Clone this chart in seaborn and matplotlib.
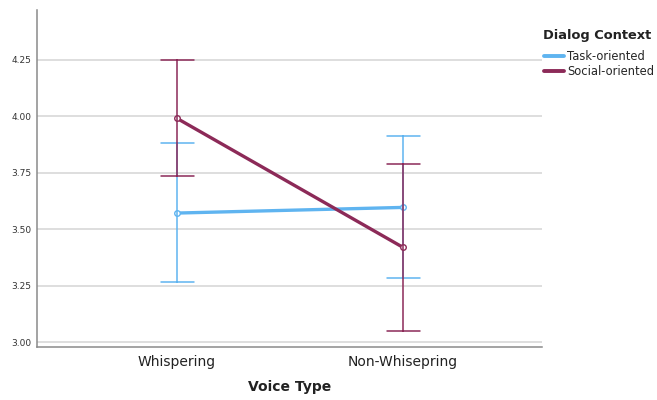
import numpy as np
import pandas as pd
import matplotlib
matplotlib.use("Agg")
import matplotlib.pyplot as plt
from matplotlib.lines import Line2D
import seaborn as sns

# values (mean with lower / upper CI bound)
voice_types = ["Whispering", "Non-Whisepring"]
contexts = ["Task-oriented", "Social-oriented"]
task_mean = [3.571, 3.596]
task_lo = [3.266, 3.285]
task_hi = [3.881, 3.910]
social_mean = [3.990, 3.419]
social_lo = [3.734, 3.050]
social_hi = [4.250, 3.789]
y_ticks = [3.00, 3.25, 3.50, 3.75, 4.00, 4.25]

palette = {"Task-oriented": "#5fb4f0", "Social-oriented": "#8c2a58"}

# long table: three rows per cell, median = mean, min/max = CI bounds
rows = []
for ctx, mean, lo, hi in [("Task-oriented", task_mean, task_lo, task_hi),
                          ("Social-oriented", social_mean, social_lo, social_hi)]:
    for i, vt in enumerate(voice_types):
        for v in (lo[i], mean[i], hi[i]):
            rows.append({"Voice Type": vt, "Dialog Context": ctx, "value": v})
df = pd.DataFrame(rows)

sns.set_style("white")
plt.rcParams["font.family"] = ["DejaVu Sans"]

fig = plt.figure(figsize=(6.57, 4.00), dpi=100)
ax = fig.add_axes([37 / 657, 53 / 400, 505 / 657, 337 / 400])

sns.pointplot(data=df, x="Voice Type", y="value", hue="Dialog Context",
              order=voice_types, hue_order=contexts, palette=palette,
              estimator=np.median, errorbar=lambda x: (x.min(), x.max()),
              capsize=0.146, linewidth=2.4, markers="o",
              markersize=4.0, markerfacecolor="white", markeredgewidth=1.0,
              err_kws={"linewidth": 1.1}, dodge=False, ax=ax)

ax.set_xlim(-0.62, 1.615)
ax.set_ylim(2.978, 4.47)
ax.set_yticks(y_ticks)
ax.set_yticklabels([f"{t:.2f}" for t in y_ticks], fontsize=6.5, color="#333333")
ax.tick_params(axis="y", length=0, pad=4)
ax.tick_params(axis="x", length=0, pad=6, labelsize=10, colors="#222222")
ax.yaxis.grid(True, color="#d4d4d4", linewidth=1.1)
ax.set_axisbelow(True)
for side in ["top", "right"]:
    ax.spines[side].set_visible(False)
for side in ["left", "bottom"]:
    ax.spines[side].set_color("#8a8a8a")
    ax.spines[side].set_linewidth(1.1)
ax.set_ylabel("")
ax.set_xlabel("Voice Type", fontsize=10, fontweight="bold", labelpad=8, color="#222222")

ax.get_legend().remove()
handles = [Line2D([], [], color=palette[c], linewidth=2.8) for c in contexts]
fig.text(543 / 657, 1 - 35 / 400, "Dialog Context", fontsize=9.4,
         fontweight="bold", color="#222222", ha="left", va="center")
fig.legend(handles, contexts, loc="upper left",
           bbox_to_anchor=(544 / 657, 1 - 50 / 400), frameon=False,
           fontsize=8.3, handlelength=1.75, handletextpad=0.25,
           labelspacing=0.2, borderaxespad=0, borderpad=0)

fig.savefig("out.png", dpi=100)
